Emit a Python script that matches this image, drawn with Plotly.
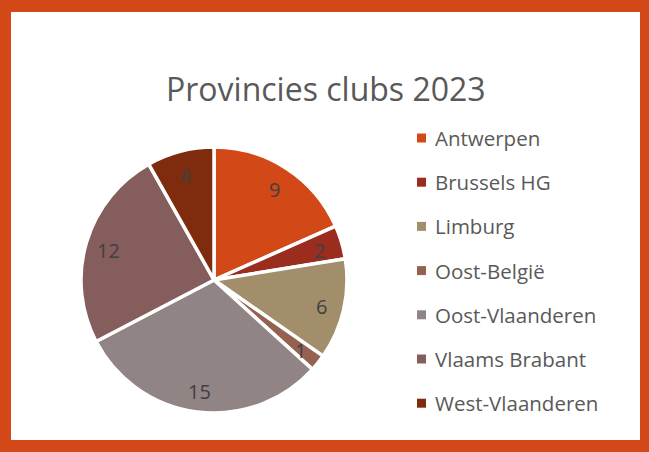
import math

import plotly.graph_objects as go

W, H = 649, 452

provincies = ["Antwerpen", "Brussels HG", "Limburg", "Oost-België",
              "Oost-Vlaanderen", "Vlaams Brabant", "West-Vlaanderen"]
clubs = [9, 2, 6, 1, 15, 12, 4]
kleuren = ["#D34817", "#9B2D1F", "#A28E6A", "#956251",
           "#918485", "#855D5D", "#7E2B0E"]

FONT = "'Open Sans', sans-serif"

# pie geometrie in pixels
CX, CY, R = 214, 280, 133


def px_x(x):
    return x / W


def px_y(y):
    return 1 - y / H


fig = go.Figure()

fig.add_trace(
    go.Pie(
        labels=provincies,
        values=clubs,
        sort=False,
        direction="clockwise",
        rotation=0,
        marker=dict(colors=kleuren, line=dict(color="white", width=3.5)),
        textinfo="none",
        domain=dict(x=[px_x(CX - R), px_x(CX + R)], y=[px_y(CY + R), px_y(CY - R)]),
        showlegend=False,
        hoverinfo="label+value",
    )
)

# witte kaart binnen de oranje rand
shapes = [
    dict(type="rect", xref="paper", yref="paper", layer="below",
         x0=px_x(11), x1=px_x(640), y0=px_y(440), y1=px_y(12),
         fillcolor="white", line=dict(width=0))
]
annotations = []

# datalabels zoals Excel: op ~0.83 van de straal, midden van elk segment
totaal = sum(clubs)
cum = 0
for v in clubs:
    theta = 2 * math.pi * (cum + v / 2) / totaal
    cum += v
    annotations.append(dict(xref="paper", yref="paper", x=px_x(CX), y=px_y(CY),
                            xanchor="center", yanchor="middle",
                            xshift=0.83 * R * math.sin(theta),
                            yshift=0.83 * R * math.cos(theta) - 2,
                            showarrow=False, text=str(v),
                            font=dict(family=FONT, size=20, color="#404040")))

# legende met handmatige tussenruimte
for i, (naam, kleur) in enumerate(zip(provincies, kleuren)):
    yc = 138 + 44.2 * i
    shapes.append(dict(type="rect", xref="paper", yref="paper",
                       x0=px_x(417), x1=px_x(426), y0=px_y(yc + 4.5), y1=px_y(yc - 4.5),
                       fillcolor=kleur, line=dict(width=0)))
    annotations.append(dict(xref="paper", yref="paper", x=px_x(433), y=px_y(yc),
                            xanchor="left", yanchor="middle", showarrow=False,
                            text=naam, font=dict(family=FONT, size=20.5, color="#595959")))

fig.update_layout(
    width=W,
    height=H,
    margin=dict(l=0, r=0, t=0, b=0),
    paper_bgcolor="#D34817",
    title=dict(text="Provincies clubs 2023", x=0.502, xanchor="center",
               y=px_y(90), yanchor="middle",
               font=dict(family=FONT, size=32, color="#595959")),
    shapes=shapes,
    annotations=annotations,
)

fig.write_html("out.html", config={"displayModeBar": False},
               post_script="document.body.style.margin='0';")
